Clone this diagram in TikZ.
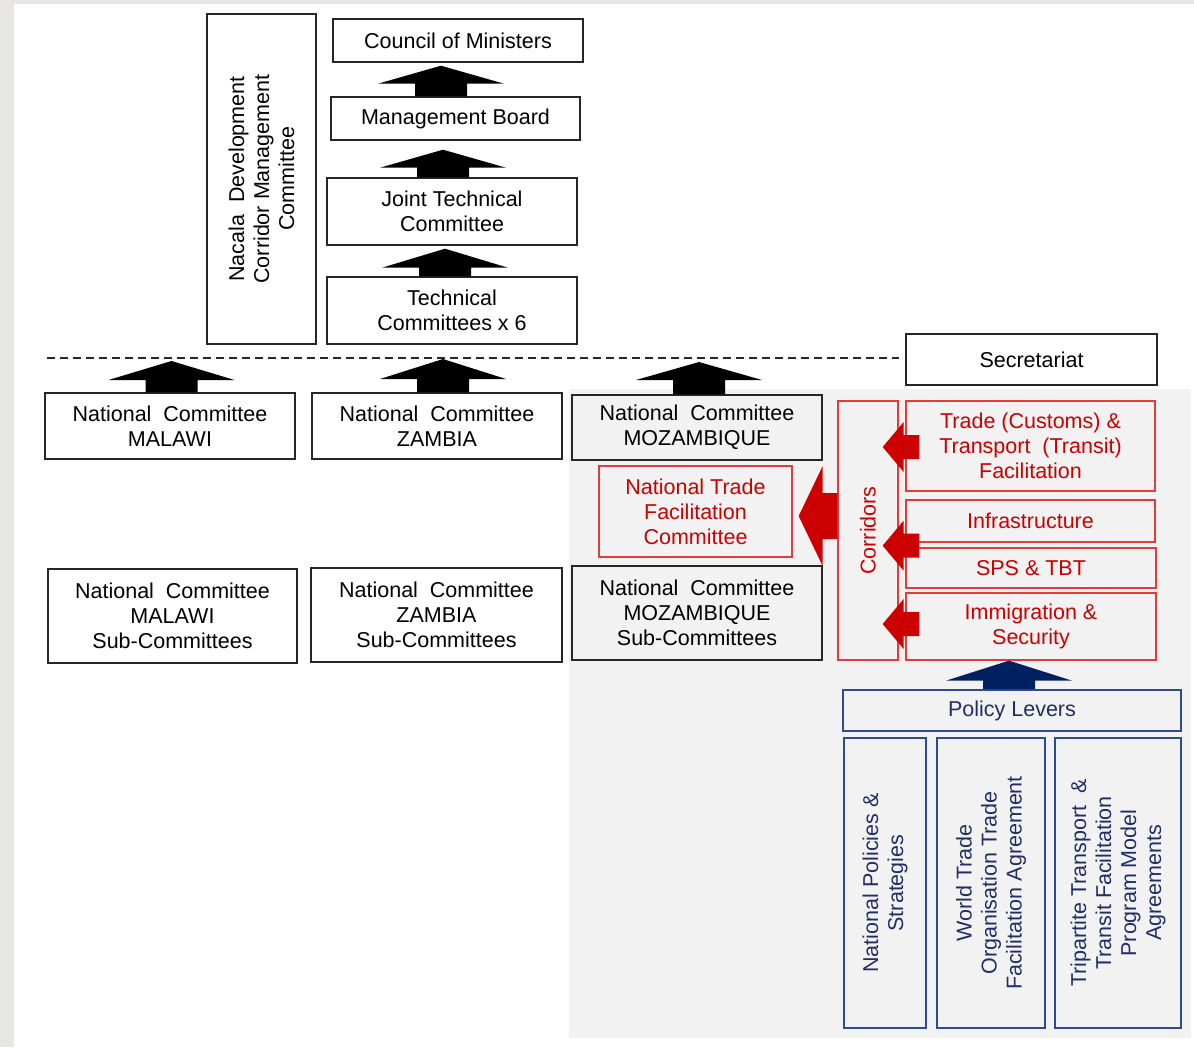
\documentclass[tikz,border=0pt]{standalone}
\usepackage{fontspec}
\setmainfont{Liberation Sans}
\usetikzlibrary{calc}
\definecolor{redA}{HTML}{CC0000}
\definecolor{redB}{HTML}{E03C3C}
\definecolor{navyA}{HTML}{002060}
\definecolor{navyB}{HTML}{2F4B8F}
\definecolor{navyT}{HTML}{1F2F66}
\definecolor{bgl}{HTML}{E8E7E3}
\definecolor{panel}{HTML}{F2F2F2}
\newcommand\blkup[6]{%
  \fill[#1] let \p1=(#2), \p2=(#3) in
    (\x1-#4,\y1) -- (\x1-#4,\y2-#6) -- (\x1-#5,\y2-#6) -- (\x1,\y2) --
    (\x1+#5,\y2-#6) -- (\x1+#4,\y2-#6) -- (\x1+#4,\y1) -- cycle;}
\newcommand\blkleft[6]{%
  \fill[#1] let \p1=(#2), \p2=(#3) in
    (\x1,\y1+#4) -- (\x2+#6,\y1+#4) -- (\x2+#6,\y1+#5) -- (\x2,\y1) --
    (\x2+#6,\y1-#5) -- (\x2+#6,\y1-#4) -- (\x1,\y1-#4) -- cycle;}
\begin{document}
\begin{tikzpicture}[x=1pt,y=-1pt,
  font=\fontsize{21.5}{25}\selectfont,
  box/.style={draw=black!85, line width=1.4pt, inner sep=0pt, align=center},
  rbox/.style={draw=redB, line width=1.3pt, text=redA, inner sep=0pt, align=center},
  nbox/.style={draw=navyB, line width=1.8pt, text=navyT, inner sep=0pt, align=center},
  dashline/.style={draw=black!85, line width=1.2pt, dash pattern=on 8pt off 5pt}]
\useasboundingbox (0,0) rectangle (1194,1047);
\fill[white] (0,0) rectangle (1194,1047);
\fill[bgl] (0,0) rectangle (1194,4);
\fill[bgl] (0,0) rectangle (14,1047);
\fill[panel] (569,389) rectangle (1191,1038);

% top hierarchy
\node[box, rotate=90, minimum width=330, minimum height=109] (nacala) at (261.5,179)
  {Nacala~~Development\\Corridor Management\\Committee};
\node[box, minimum width=250, minimum height=43] (cm) at (458,40.5) {Council of Ministers};
\node[box, minimum width=249, minimum height=43] (mb) at (455.5,118.5) {Management Board};
\node[box, minimum width=250, minimum height=67] (jtc) at (452,211.5) {Joint Technical\\Committee};
\node[box, minimum width=250, minimum height=67] (tc) at (452,310.5) {Technical\\Committees x 6};
\node[box, minimum width=251, minimum height=51] (sec) at (1031.5,359.5) {Secretariat};

\coordinate (dl) at (47,358);
\draw[dashline] (dl) -- ($(dl -| sec.west)+(-6,0)$);

% national committees
\node[box, minimum width=250, minimum height=66] (ncmw) at (170,426) {National~~Committee\\MALAWI};
\node[box, minimum width=250, minimum height=66] (nczm) at (437,426) {National~~Committee\\ZAMBIA};
\node[box, minimum width=250, minimum height=65] (ncmz) at (697,427.5) {National~~Committee\\MOZAMBIQUE};
\node[rbox, minimum width=193, minimum height=91] (ntfc) at (695.5,511.5) {National Trade\\Facilitation\\Committee};
\node[box, minimum width=249, minimum height=94] (submw) at (172.5,616) {National~~Committee\\MALAWI\\Sub-Committees};
\node[box, minimum width=251, minimum height=94] (subzm) at (436.5,615) {National~~Committee\\ZAMBIA\\Sub-Committees};
\node[box, minimum width=250, minimum height=94] (submz) at (697,613) {National~~Committee\\MOZAMBIQUE\\Sub-Committees};

% corridors
\node[rbox, rotate=90, minimum width=259, minimum height=60] (corr) at (868,530.5) {Corridors};
\node[rbox, minimum width=249, minimum height=90] (trade) at (1030.5,446) {Trade (Customs) \&\\Transport~~(Transit)\\Facilitation};
\node[rbox, minimum width=249, minimum height=42] (infra) at (1030.5,521) {Infrastructure};
\node[rbox, minimum width=250, minimum height=40] (sps) at (1031,568) {SPS \& TBT};
\node[rbox, minimum width=250, minimum height=67] (immig) at (1031,626.5) {Immigration \&\\Security};

% policy levers
\node[nbox, minimum width=338, minimum height=41] (pl) at (1012,710.5) {Policy Levers};
\node[nbox, rotate=90, minimum width=290, minimum height=82] (np) at (885,883) {National Policies \&\\Strategies};
\node[nbox, rotate=90, minimum width=290, minimum height=108] (wto) at (991,883) {World Trade\\Organisation Trade\\Facilitation Agreement};
\node[nbox, rotate=90, minimum width=290, minimum height=126] (trip) at (1118,883) {Tripartite Transport~~\&\\Transit Facilitation\\Program Model\\Agreements};

% black block arrows
\blkup{black}{$(tc.north)+(-7,0)$}{$(jtc.south)+(0,3)$}{26pt}{63pt}{19pt}
\blkup{black}{$(jtc.north)+(-9,0)$}{$(mb.south)+(0,9)$}{26pt}{63pt}{18pt}
\blkup{black}{$(mb.north)+(-14.5,0)$}{$(cm.south)+(0,3)$}{26pt}{63pt}{18pt}
\blkup{black}{$(ncmw.north)+(1.5,0)$}{$(dl)+(0,3)$}{26pt}{63pt}{19pt}
\blkup{black}{$(nczm.north)+(6,0)$}{$(dl)+(0,1)$}{26pt}{63pt}{20pt}
\blkup{black}{$(ncmz.north)+(2,0)$}{$(dl)+(0,4)$}{26pt}{63pt}{18pt}

% red block arrows (corr is rotated: its north anchor is its left side, south its right side)
\blkleft{redA}{$(corr.north)+(0,-14.5)$}{$(ntfc.east)+(6,0)$}{23pt}{50pt}{24pt}
\blkleft{redA}{$(trade.west)+(14,1)$}{$(corr.south)+(-16,0)$}{12pt}{25pt}{21pt}
\blkleft{redA}{$(infra.south west)+(14,3)$}{$(corr.south)+(-16,0)$}{12pt}{25pt}{21pt}
\blkleft{redA}{$(immig.west)+(14,-2.5)$}{$(corr.south)+(-16,0)$}{12pt}{25pt}{21pt}

% navy block arrow
\blkup{navyA}{$(pl.north)+(-3,0)$}{immig.south}{26pt}{63pt}{20pt}
\end{tikzpicture}
\end{document}
